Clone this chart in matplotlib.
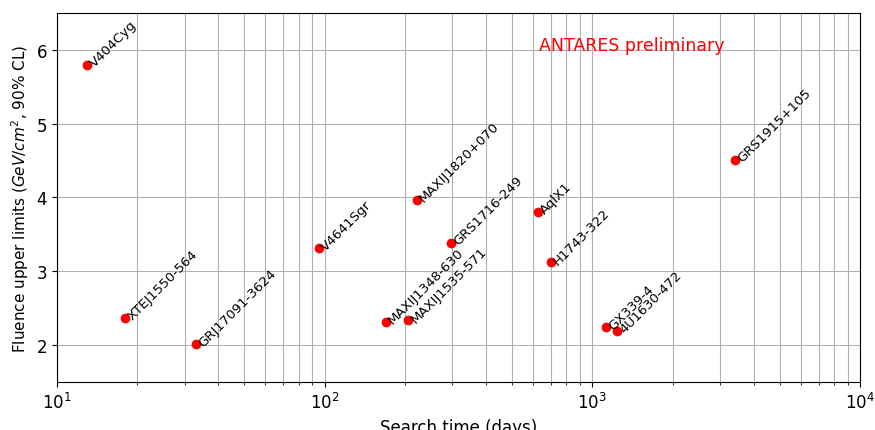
import matplotlib
matplotlib.use('Agg')
import matplotlib.pyplot as plt
import numpy as np

names = ['V404Cyg', 'XTEJ1550-564', 'GRJ17091-3624', 'V4641Sgr', 'MAXIJ1348-630',
         'MAXIJ1535-571', 'MAXIJ1820+070', 'GRS1716-249', 'AqlX1', 'H1743-322',
         'GX339-4', '4U1630-472', 'GRS1915+105']
search_time = [13, 18, 33, 95, 169, 205, 221, 296, 627, 701, 1125, 1236, 3414]
fluence_ul = [5.80, 2.37, 2.01, 3.31, 2.32, 2.34, 3.97, 3.39, 3.81, 3.12, 2.24, 2.19, 4.51]

fig = plt.figure(figsize=(8.75, 4.31), dpi=100)
ax = fig.add_axes([0.065, 0.111, 0.918, 0.857])

ax.plot(search_time, fluence_ul, 'o', color='red', markersize=6)
for name, x, y in zip(names, search_time, fluence_ul):
    ax.text(x, y - 0.06, name, rotation=45, fontsize=9.5,
            ha='left', va='bottom')

ax.set_xscale('log')
ax.set_xlim(10, 1e4)
ax.set_ylim(1.5, 6.5)
ax.grid(True, which='both', color='#b0b0b0', linewidth=0.8)
ax.set_axisbelow(True)
ax.tick_params(labelsize=12)
ax.set_xlabel('Search time (days)', fontsize=12)
ax.set_ylabel(r'Fluence upper limits ($GeV/cm^2$, 90% CL)', fontsize=11)
ax.text(0.6, 0.9, 'ANTARES preliminary', color='red', fontsize=12.5,
        transform=ax.transAxes)

fig.savefig('out.png', dpi=100)
